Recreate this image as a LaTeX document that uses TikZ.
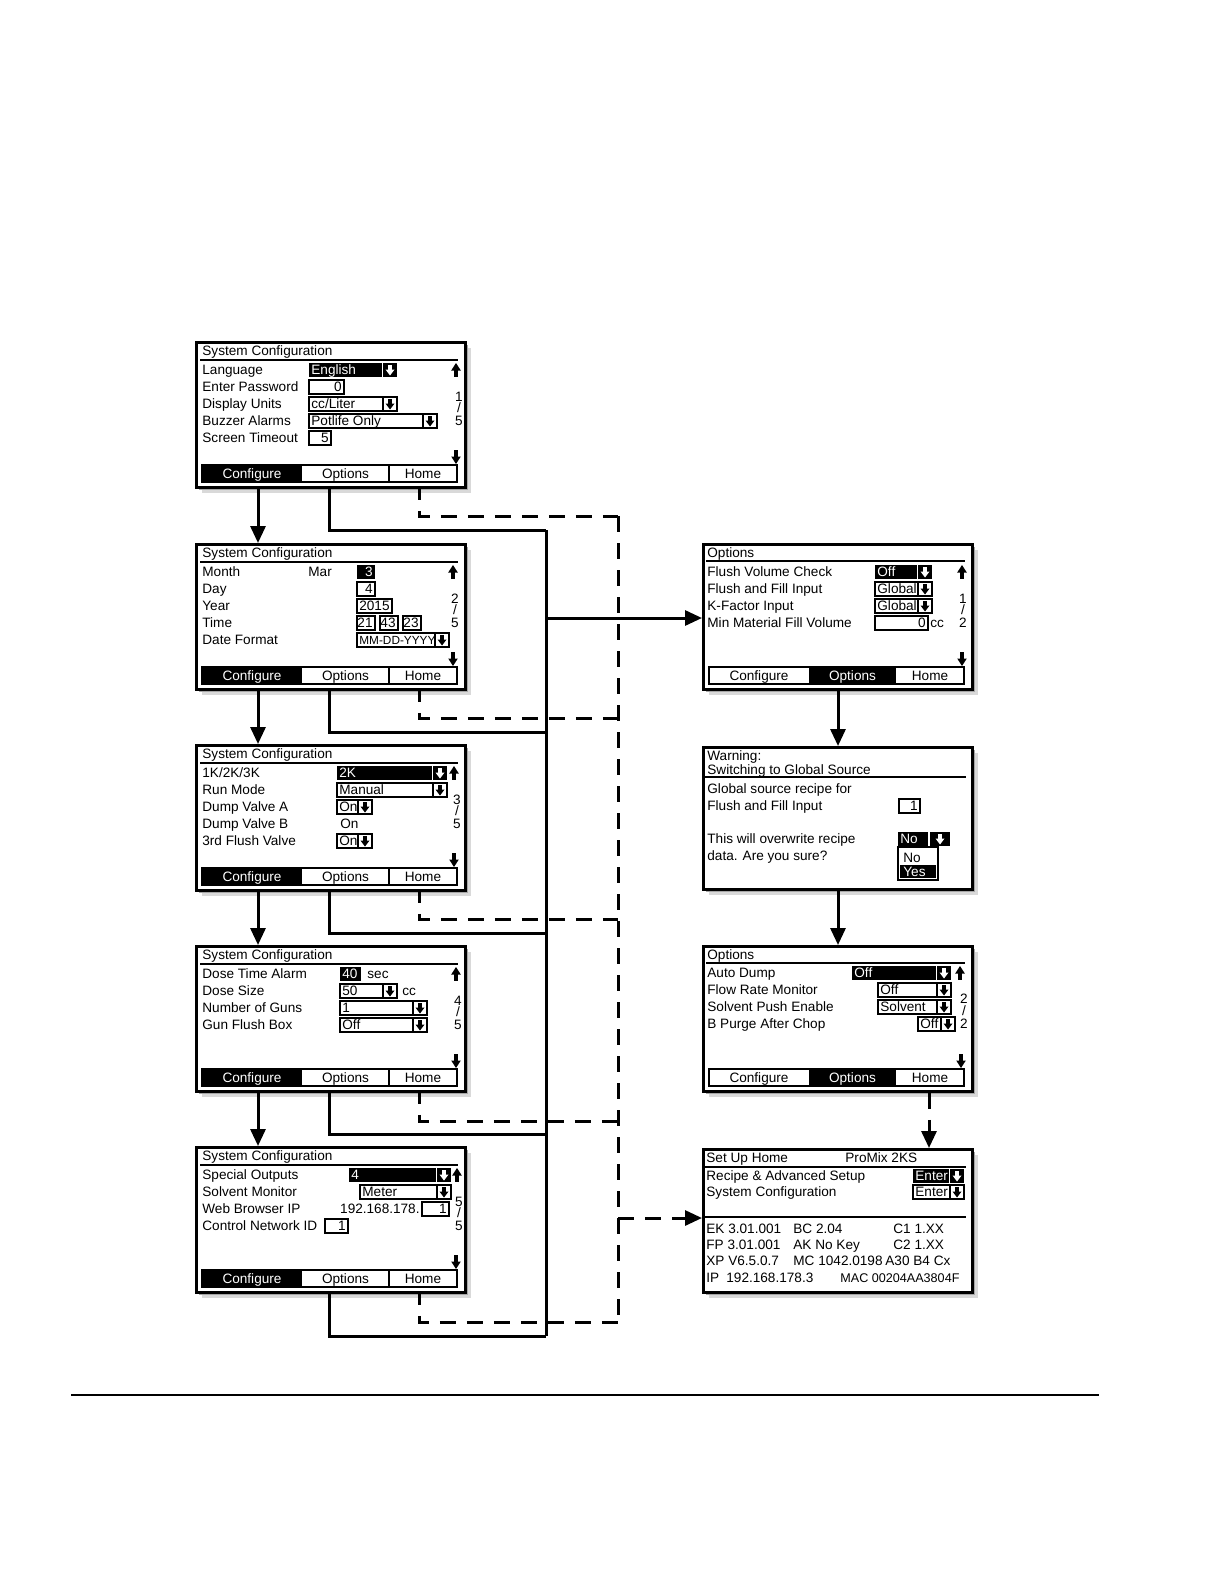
\documentclass[tikz,border=0pt]{standalone}
\usepackage{fontspec}
\newfontfamily\lcdfont{Liberation Sans}
\usetikzlibrary{arrows.meta,calc}
\newcounter{tn}
\tikzset{
 lcd/.style={font=\fontsize{6.8}{7}\selectfont\lcdfont, inner sep=0pt, text height=4.9pt, text depth=0pt},
 lcdw/.style={lcd, text=white},
 fl/.style={line width=0.55pt},
 screen/.style={draw, fill=white, line width=1.4pt, anchor=north west, minimum width=134.5pt, inner sep=0pt},
 conn/.style={line width=1.5pt},
 dconn/.style={line width=1.5pt, dash pattern=on 8pt off 5.5pt},
 arr/.style={-{Triangle[length=8.5pt,width=7.5pt]}},
}
% text helpers (local px coordinates)
\newcommand\mT[3]{\stepcounter{tn}\edef\tnm{t\arabic{tn}}\node[lcd,anchor=west] (\tnm) at (#1,#2) {#3};}
\newcommand\mTw[3]{\stepcounter{tn}\edef\tnm{t\arabic{tn}}\node[lcdw,anchor=west] (\tnm) at (#1,#2) {#3};}
\newcommand\mTe[3]{\stepcounter{tn}\edef\tnm{t\arabic{tn}}\node[lcd,anchor=east] (\tnm) at (#1,#2) {#3};}
\newcommand\mTew[3]{\stepcounter{tn}\edef\tnm{t\arabic{tn}}\node[lcdw,anchor=east] (\tnm) at (#1,#2) {#3};}
\newcommand\mTc[3]{\stepcounter{tn}\edef\tnm{t\arabic{tn}}\node[lcd] (\tnm) at (#1,#2) {#3};}
\newcommand\mTcw[3]{\stepcounter{tn}\edef\tnm{t\arabic{tn}}\node[lcdw] (\tnm) at (#1,#2) {#3};}
% small down arrow glyph inside a box
\newcommand\mDn[3]{%
 \fill[#3] (#1-1.6,#2-5) rectangle (#1+1.6,#2+0.5);
 \fill[#3] (#1-4.5,#2-0.5) -- (#1+4.5,#2-0.5) -- (#1,#2+5.5) -- cycle;}
% scroll arrows
\newcommand\mUp[2]{%
 \fill (#1-1.6,#2+7) rectangle (#1+1.6,#2-0.5);
 \fill (#1-4.8,#2+0.5) -- (#1+4.8,#2+0.5) -- (#1,#2-7) -- cycle;}
\newcommand\mDown[2]{%
 \fill (#1-1.6,#2-7) rectangle (#1+1.6,#2+0.5);
 \fill (#1-4.8,#2-0.5) -- (#1+4.8,#2-0.5) -- (#1,#2+7) -- cycle;}
% fields
\newcommand\wfield[4]{\draw[fl] (#1,#3-7) rectangle (#2,#3+7); \mT{#1+2}{#3}{#4}}
\newcommand\bfield[4]{\fill (#1,#3-7) rectangle (#2,#3+7); \mTw{#1+2}{#3}{#4}}
\newcommand\wnum[4]{\draw[fl] (#1,#3-7) rectangle (#2,#3+7); \mTe{#2-2}{#3}{#4}}
\newcommand\bnum[4]{\fill (#1,#3-7) rectangle (#2,#3+7); \mTew{#2-2}{#3}{#4}}
\newcommand\wArrBox[2]{\draw[fl] (#1,#2-7) rectangle (#1+14,#2+7); \mDn{#1+7}{#2}{black}}
\newcommand\bArrBox[2]{\fill (#1+1,#2-7) rectangle (#1+15,#2+7); \mDn{#1+8}{#2}{white}}
% page number
\newcommand\pgnum[6]{\mTc{#1}{#4}{#2}\mTc{#1}{#5}{/}\mTc{#1}{#6}{#3}}
% button bars
\newcommand\barC{\fill (7,124) rectangle (107,141); \draw[fl] (7,124) rectangle (262,141); \draw[fl] (194,124)--(194,141);
 \mTcw{57}{132.5}{Configure}\mTc{150.5}{132.5}{Options}\mTc{228}{132.5}{Home}}
\newcommand\barO{\fill (107,124) rectangle (194,141); \draw[fl] (7,124) rectangle (262,141);
 \mTc{57}{132.5}{Configure}\mTcw{150.5}{132.5}{Options}\mTc{228}{132.5}{Home}}
% screen frame with shadow
\newcommand\scr[4]{%
 \fill[black!15] (#2+7,#3+7) rectangle (#2+276,#3+#4+7);
 \fill[black!35] (#2+4,#3+4) rectangle (#2+273,#3+#4+4);
 \node[screen, minimum height=#4*0.5pt] (#1) at (#2,#3) {};}

\begin{document}
\begin{tikzpicture}[x=0.5pt,y=-0.5pt]
\useasboundingbox (0,0) rectangle (1224,1584);

% ---------------- left column ----------------
\scr{S1}{195}{341}{145}
\begin{scope}[shift={(195,341)}]
 \mT{7}{10}{System Configuration} \draw[fl] (5,19)--(263,19);
 \mT{7}{29}{Language} \bfield{114}{187}{29}{English} \bArrBox{187}{29}
 \mT{7}{46}{Enter Password} \wnum{114}{149}{46}{0}
 \mT{7}{63}{Display Units} \wfield{114}{188}{63}{cc/Liter} \wArrBox{188}{63}
 \mT{7}{80}{Buzzer Alarms} \wfield{114}{228}{80}{Potlife Only} \wArrBox{228}{80}
 \mT{7}{97}{Screen Timeout} \wnum{114}{136}{97}{5}
 \mUp{261}{29} \mDown{261}{116} \pgnum{264}{1}{5}{56}{67}{80}
 \barC
\end{scope}

\scr{S2}{195}{543}{145}
\begin{scope}[shift={(195,543)}]
 \mT{7}{10}{System Configuration} \draw[fl] (5,19)--(263,19);
 \mT{7}{29}{Month} \mT{113}{29}{Mar} \bnum{162}{180}{29}{3}
 \mT{7}{46}{Day} \wnum{162}{180}{46}{4}
 \mT{7}{63}{Year} \wnum{162}{197}{63}{2015}
 \mT{7}{80}{Time} \wnum{162}{180}{80}{21} \wnum{185}{203}{80}{43} \wnum{208}{226}{80}{23}
 \mT{7}{97}{Date Format} \wfield{162}{240}{97}{\fontsize{5.9}{6}\selectfont MM-DD-YYYY} \wArrBox{240}{97}
 \mUp{258}{29} \mDown{258}{116} \pgnum{260}{2}{5}{56}{67}{80}
 \barC
\end{scope}

\scr{S3}{195}{744}{145}
\begin{scope}[shift={(195,744)}]
 \mT{7}{10}{System Configuration} \draw[fl] (5,19)--(263,19);
 \mT{7}{29}{1K/2K/3K} \bfield{142}{237}{29}{2K} \bArrBox{237}{29}
 \mT{7}{46}{Run Mode} \wfield{142}{238}{46}{Manual} \wArrBox{238}{46}
 \mT{7}{63}{Dump Valve A} \wfield{142}{163}{63}{On} \wArrBox{163}{63}
 \mT{7}{80}{Dump Valve B} \mT{145}{80}{On}
 \mT{7}{97}{3rd Flush Valve} \wfield{142}{163}{97}{On} \wArrBox{163}{97}
 \mUp{259}{29} \mDown{259}{116} \pgnum{262}{3}{5}{56}{67}{80}
 \barC
\end{scope}

\scr{S4}{195}{945}{145}
\begin{scope}[shift={(195,945)}]
 \mT{7}{10}{System Configuration} \draw[fl] (5,19)--(263,19);
 \mT{7}{29}{Dose Time Alarm} \bfield{145}{166}{29}{40} \mT{172}{29}{sec}
 \mT{7}{46}{Dose Size} \wfield{145}{188}{46}{50} \wArrBox{188}{46} \mT{207}{46}{cc}
 \mT{7}{63}{Number of Guns} \wfield{145}{218}{63}{1} \wArrBox{218}{63}
 \mT{7}{80}{Gun Flush Box} \wfield{145}{218}{80}{Off} \wArrBox{218}{80}
 \mUp{261}{29} \mDown{261}{116} \pgnum{263}{4}{5}{56}{67}{80}
 \barC
\end{scope}

\scr{S5}{195}{1146}{145}
\begin{scope}[shift={(195,1146)}]
 \mT{7}{10}{System Configuration} \draw[fl] (5,19)--(263,19);
 \mT{7}{29}{Special Outputs} \bfield{154}{241}{29}{4} \bArrBox{241}{29}
 \mT{7}{46}{Solvent Monitor} \wfield{165}{242}{46}{Meter} \wArrBox{242}{46}
 \mT{7}{63}{Web Browser IP} \mTe{225}{63}{192.168.178.} \wnum{227}{254}{63}{1}
 \mT{7}{80}{Control Network ID} \wnum{130}{153}{80}{1}
 \mUp{262}{29} \mDown{261}{116} \pgnum{264}{5}{5}{56}{67}{80}
 \barC
\end{scope}

% ---------------- right column ----------------
\scr{O1}{702}{543}{145}
\begin{scope}[shift={(702,543)}]
 \mT{5}{10}{Options} \draw[fl] (4,18)--(263,18);
 \mT{5}{29}{Flush Volume Check} \bfield{173}{215}{29}{Off} \bArrBox{215}{29}
 \mT{5}{46}{Flush and Fill Input} \wfield{173}{216}{46}{Global} \wArrBox{216}{46}
 \mT{5}{63}{K-Factor Input} \wfield{173}{216}{63}{Global} \wArrBox{216}{63}
 \mT{5}{80}{Min Material Fill Volume} \wnum{173}{226}{80}{0} \mT{228}{80}{cc}
 \mUp{260}{29} \mDown{260}{116} \pgnum{261}{1}{2}{56}{67}{80}
 \barO
\end{scope}

\scr{W}{702}{746}{142}
\begin{scope}[shift={(702,746)}]
 \mT{5}{10}{Warning:}
 \mT{5}{24}{Switching to Global Source} \draw[fl] (3,31)--(264,31);
 \mT{5}{43}{Global source recipe for}
 \mT{5}{60}{Flush and Fill Input} \wnum{197}{218}{60}{1}
 \mT{5}{93}{This will overwrite recipe} \bfield{196}{226}{93}{No}
 \fill (228,86) rectangle (248,100); \mDn{238}{93}{white}
 \mT{5}{110}{data. Are you sure?}
 \draw[fl] (196,101) rectangle (236,134);
 \mT{201}{112}{No}
 \fill (198,119) rectangle (234,132); \mTw{201}{125.5}{Yes}
\end{scope}

\scr{O2}{702}{945}{145}
\begin{scope}[shift={(702,945)}]
 \mT{5}{10}{Options} \draw[fl] (4,18)--(263,18);
 \mT{5}{28}{Auto Dump} \bfield{150}{234}{28}{Off} \bArrBox{234}{28}
 \mT{5}{45}{Flow Rate Monitor} \wfield{176}{235}{45}{Off} \wArrBox{235}{45}
 \mT{5}{62}{Solvent Push Enable} \wfield{176}{235}{62}{Solvent} \wArrBox{235}{62}
 \mT{5}{79}{B Purge After Chop} \wfield{216}{239}{79}{Off} \wArrBox{239}{79}
 \mUp{258}{28} \mDown{259}{116} \pgnum{262}{2}{2}{54}{66}{79}
 \barO
\end{scope}

\scr{H}{702}{1148}{143}
\begin{scope}[shift={(702,1148)}]
 \mT{4}{10}{Set Up Home} \mT{143}{10}{ProMix 2KS} \draw[fl] (3,19)--(264,19);
 \mT{4}{28}{Recipe \& Advanced Setup} \bfield{211}{247}{28}{Enter} \bArrBox{247}{28}
 \mT{4}{44}{System Configuration} \wfield{211}{248}{44}{Enter} \wArrBox{248}{44}
 \draw[fl] (2,69)--(264,69);
 \mT{4}{81}{EK 3.01.001} \mT{91}{81}{BC 2.04} \mT{191}{81}{C1 1.XX}
 \mT{4}{97}{FP 3.01.001} \mT{91}{97}{AK No Key} \mT{191}{97}{C2 1.XX}
 \mT{4}{113}{XP V6.5.0.7} \mT{91}{113}{MC 1042.0198} \mT{183}{113}{A30 B4 Cx}
 \mT{4}{130}{IP} \mT{24}{130}{192.168.178.3} \mT{138}{130}{\fontsize{6.3}{7}\selectfont MAC 00204AA3804F}
\end{scope}

% ---------------- connectors ----------------
\coordinate (xc) at (258,0);
\coordinate (xo) at (329,0);
\coordinate (xh) at (419,0);
\coordinate (j1) at (546,530); \coordinate (j2) at (546,732); \coordinate (j3) at (546,933);
\coordinate (j4) at (546,1134); \coordinate (j5) at (546,1336);
\coordinate (d1) at (618,516); \coordinate (d2) at (618,718); \coordinate (d3) at (618,919);
\coordinate (d4) at (618,1121); \coordinate (d5) at (618,1322);

\begin{scope}[dconn, dash phase=2.5pt]
\draw (S1.south -| xh) |- (d1);
\draw (S2.south -| xh) |- (d2);
\draw (S3.south -| xh) |- (d3);
\draw (S4.south -| xh) |- (d4);
\draw (S5.south -| xh) |- (d5);
\end{scope}
\draw[dconn] (d1) -- (d5);

\draw[conn] (S1.south -| xo) |- (j1);
\draw[conn] (S2.south -| xo) |- (j2);
\draw[conn] (S3.south -| xo) |- (j3);
\draw[conn] (S4.south -| xo) |- (j4);
\draw[conn] (S5.south -| xo) |- (j5);
\draw[conn] (j1) -- (j5);

\draw[conn,arr] (S1.south -| xc) -- (S2.north -| xc);
\draw[conn,arr] (S2.south -| xc) -- (S3.north -| xc);
\draw[conn,arr] (S3.south -| xc) -- (S4.north -| xc);
\draw[conn,arr] (S4.south -| xc) -- (S5.north -| xc);

\coordinate (a1) at (546,618);
\draw[conn,arr] (a1) -- (a1 -| O1.west);
\coordinate (a2) at (618,1218);
\draw[dconn,arr] (a2) -- (a2 -| H.west);

\coordinate (xr) at (838,0);
\draw[conn,arr] (O1.south -| xr) -- (W.north -| xr);
\draw[conn,arr] (W.south -| xr) -- (O2.north -| xr);
\coordinate (xr2) at (929,0);
\draw[dconn,arr] (O2.south -| xr2) -- (H.north -| xr2);

% bottom rule
\coordinate (hr1) at (71,1395); \coordinate (hr2) at (1099,1395);
\draw[line width=1pt] (hr1) -- (hr2);
\end{tikzpicture}
\end{document}
